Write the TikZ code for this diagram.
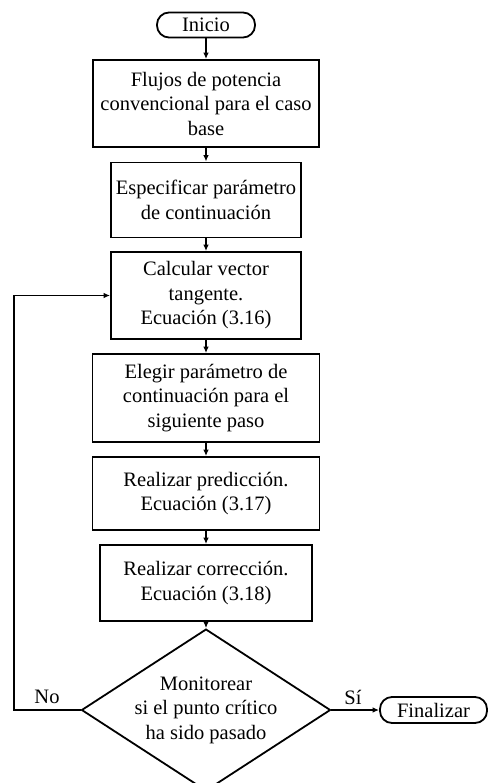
\documentclass[tikz,border=0pt]{standalone}
\usepackage{fontspec}
\setmainfont{Liberation Serif}
\usetikzlibrary{arrows.meta,shapes.geometric}
\begin{document}
\begin{tikzpicture}[x=1pt,y=-1pt,
  every node/.style={font=\fontsize{20.5}{24.5}\selectfont, align=center, inner sep=0pt},
  procbox/.style={draw, line width=1.8pt},
  terminal/.style={draw, line width=1.8pt, rounded corners=12pt},
  decision/.style={draw, diamond, line width=1.8pt, inner sep=-12pt},
  flow/.style={line width=1.8pt, -{Latex[length=6.5pt,width=5.5pt]}},
  tag/.style={}
]
\useasboundingbox (0,0) rectangle (488,783);

% process steps
\node[terminal, minimum width=98pt, minimum height=25pt] (ini) at (206,25) {Inicio};
\node[procbox, minimum width=226pt, minimum height=87pt] (b1) at (206,103.5)
  {Flujos de potencia\\convencional para el caso\\base};
\node[procbox, minimum width=190pt, minimum height=75pt] (b2) at (206,200)
  {Especificar parámetro\\de continuación};
\node[procbox, minimum width=190pt, minimum height=87pt] (b3) at (206,295.5)
  {Calcular vector\\tangente.\\Ecuación (3.16)};
\node[procbox, minimum width=227pt, minimum height=88pt] (b4) at (206,398)
  {Elegir parámetro de\\continuación para el\\siguiente paso};
\node[procbox, minimum width=227pt, minimum height=73pt] (b5) at (206,493.5)
  {Realizar predicción.\\Ecuación (3.17)};
\node[procbox, minimum width=212pt, minimum height=76pt] (b6) at (206,583)
  {Realizar corrección.\\Ecuación (3.18)};
\node[decision, minimum width=249pt, minimum height=148pt] (dec) at (206,710)
  {Monitorear\\si el punto crítico\\ha sido pasado};
\node[terminal, minimum width=107pt, minimum height=26pt] (fin) at (433.5,710) {Finalizar};

% main flow
\draw[flow] (ini.south) -- (b1.north);
\draw[flow] (b1.south) -- (b2.north);
\draw[flow] (b2.south) -- (b3.north);
\draw[flow] (b3.south) -- (b4.north);
\draw[flow] (b4.south) -- (b5.north);
\draw[flow] (b5.south) -- (b6.north);
\draw[flow] (b6.south) -- (dec.north);

% loop back and exit
\coordinate (loop) at (14,710);
\draw[flow] (dec.west) -- (loop) |- (b3.west);
\draw[flow] (dec.east) -- (fin.west);
\node[tag] (no) at (47,697) {No};
\node[tag] (si) at (353,697) {Sí};
\end{tikzpicture}
\end{document}
